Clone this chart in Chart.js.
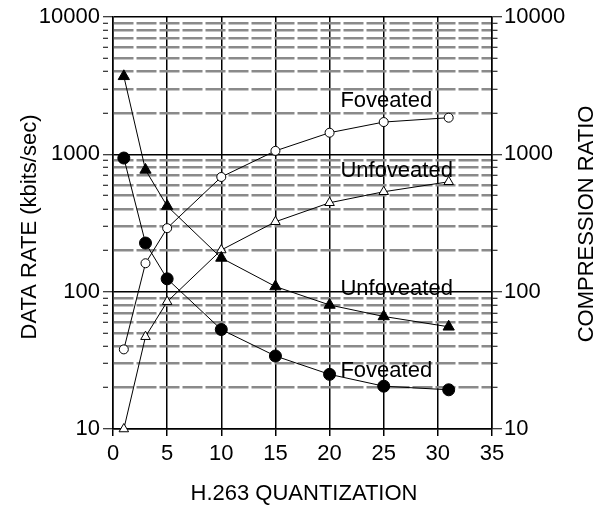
<!DOCTYPE html>
<html>
<head>
<meta charset="utf-8">
<script src="https://cdn.jsdelivr.net/npm/chart.js@4.4.0/dist/chart.umd.min.js"></script>
<style>
  body { margin: 0; background: #fff; }
  #wrap { width: 605px; height: 508px; }
</style>
</head>
<body>
<div id="wrap"><canvas id="chart"></canvas></div>
<script>
// Values
const quant = [1, 3, 5, 10, 15, 20, 25, 31];
const rateFoveated = [940, 226, 124, 53, 34, 25, 20.5, 19.3];
const rateUnfoveated = [3700, 770, 420, 176, 109, 80, 66, 55.5];
const ratioFoveated = [38, 161, 290, 684, 1060, 1437, 1718, 1848];
const ratioUnfoveated = [10, 47, 84.5, 201, 323, 444, 534, 631];

// tick labels
const decadeTicks = [10, 100, 1000, 10000];
const xMin = 0, xMax = 35, xStep = 5;

// curve labels (data coords)
const curveLabels = ['Foveated', 'Unfoveated', 'Unfoveated', 'Foveated'];
const curveLabelX = [21, 21, 21, 21];
const curveLabelY = [2210, 684, 94.5, 23.9];

const FONT = '"Liberation Sans", Arial, Helvetica, sans-serif';
Chart.defaults.font.family = FONT;
Chart.defaults.font.size = 22;
Chart.defaults.color = '#000';

const pts = vals => quant.map((q, i) => ({x: q, y: vals[i]}));
const isDecade = ctx => ctx.tick && decadeTicks.includes(ctx.tick.value);

// decades plus 2..9 minors in between
function buildLogTicks(scale) {
    const ticks = [];
    decadeTicks.forEach((d, i) => {
        ticks.push({value: d, major: true});
        if (i < decadeTicks.length - 1) {
            for (let m = 2; m < 10; m++) ticks.push({value: d * m});
        }
    });
    scale.ticks = ticks;
}

const logAxis = (position, onArea) => ({
    type: 'logarithmic',
    position: position,
    min: decadeTicks[0],
    max: decadeTicks[decadeTicks.length - 1],
    afterBuildTicks: buildLogTicks,
    afterFit: s => { s.width = 113; },
    ticks: {
        autoSkip: false,
        padding: position === 'left' ? 3 : 2,
        callback: v => decadeTicks.includes(v) ? String(v) : ''
    },
    grid: {
        drawOnChartArea: onArea,
        color: ctx => isDecade(ctx) ? '#000' : '#8a8a8a',
        lineWidth: ctx => isDecade(ctx) ? 1.5 : 2.5,
        tickColor: '#000',
        tickWidth: 1,
        tickLength: 10,
        // minor ticks only half as long as the decade ones
        tickBorderDash: ctx => isDecade(ctx) ? [] : [5, 30]
    },
    border: {
        display: true,
        color: '#000',
        width: 1.5,
        dash: ctx => (ctx.tick && !decadeTicks.includes(ctx.tick.value)) ? [20, 3] : []
    }
});

const series = (data, style, radius, fill, axis) => ({
    data: pts(data),
    yAxisID: axis,
    borderColor: '#000',
    borderWidth: 1,
    tension: 0,
    fill: false,
    clip: false,
    pointStyle: style,
    pointRadius: radius,
    pointBackgroundColor: fill,
    pointBorderColor: '#000',
    pointBorderWidth: 1
});

const figureText = {
    id: 'figureText',
    afterDatasetsDraw(chart) {
        const {ctx, scales: {x, y}} = chart;
        ctx.save();
        ctx.fillStyle = '#000';
        ctx.font = '22px ' + FONT;
        ctx.textBaseline = 'alphabetic';
        ctx.textAlign = 'left';
        curveLabels.forEach((t, i) => {
            ctx.fillText(t, x.getPixelForValue(curveLabelX[i]), y.getPixelForValue(curveLabelY[i]));
        });
        ctx.textAlign = 'center';
        ctx.fillText('H.263 QUANTIZATION', 304, 500);
        ctx.save();
        ctx.translate(36, 227);
        ctx.rotate(-Math.PI / 2);
        ctx.fillText('DATA RATE (kbits/sec)', 0, 0);
        ctx.restore();
        ctx.save();
        ctx.translate(593, 224);
        ctx.rotate(-Math.PI / 2);
        ctx.fillText('COMPRESSION RATIO', 0, 0);
        ctx.restore();
        ctx.restore();
    }
};

new Chart(document.getElementById('chart'), {
    type: 'line',
    data: {
        datasets: [
            series(rateUnfoveated, 'triangle', 6.5, '#000', 'y'),
            series(rateFoveated, 'circle', 6, '#000', 'y'),
            series(ratioFoveated, 'circle', 4.5, '#fff', 'y2'),
            series(ratioUnfoveated, 'triangle', 5.5, '#fff', 'y2')
        ]
    },
    options: {
        responsive: true,
        maintainAspectRatio: false,
        animation: false,
        layout: { padding: {top: 17, left: 0, right: 0, bottom: 0} },
        plugins: { legend: { display: false }, tooltip: { enabled: false } },
        scales: {
            x: {
                type: 'linear',
                min: xMin,
                max: xMax,
                afterFit: s => { s.height = 79; },
                ticks: { stepSize: xStep, padding: 5, maxRotation: 0 },
                grid: { color: '#000', lineWidth: 1.5, tickColor: '#000', tickLength: 7 },
                border: { display: true, color: '#000', width: 1.5 }
            },
            y: logAxis('left', true),
            y2: logAxis('right', false)
        }
    },
    plugins: [figureText]
});
</script>
</body>
</html>
